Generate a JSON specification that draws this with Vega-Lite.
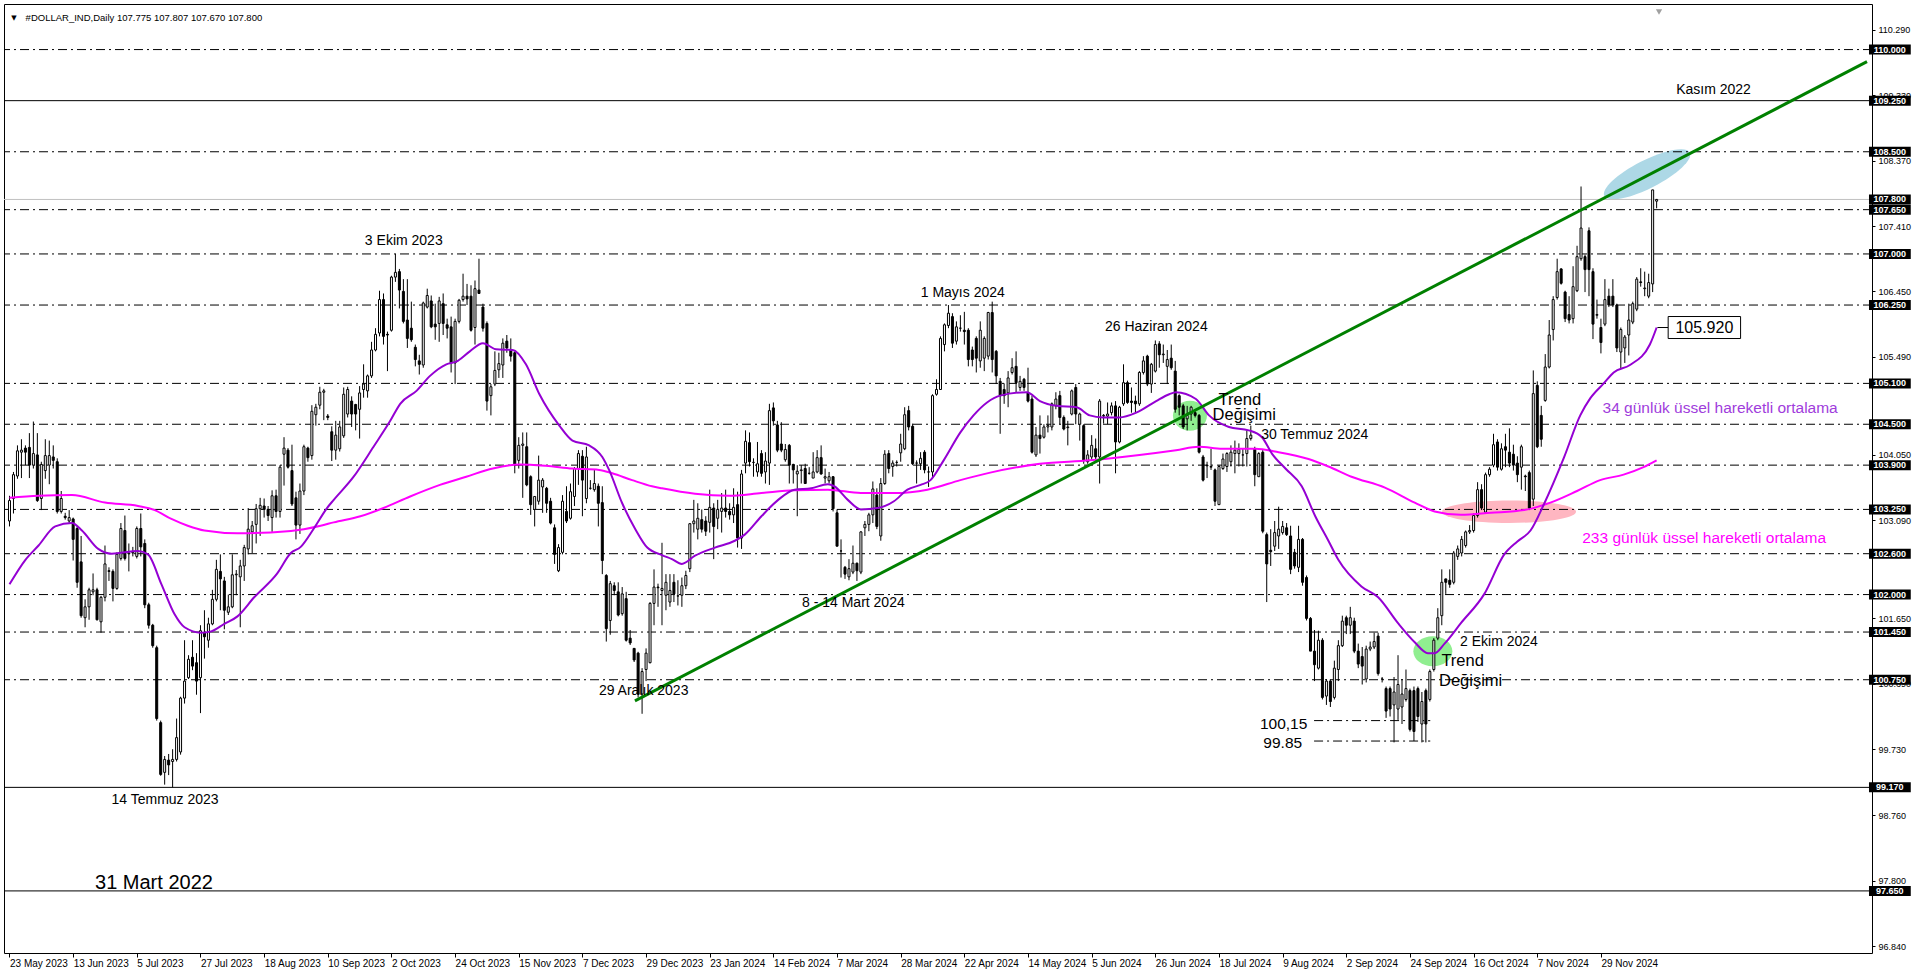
{
"$schema":"https://vega.github.io/schema/vega-lite/v6.json",
"width":1868,"height":949,
"autosize":{"type":"none"},
"padding":{"left":4,"top":4,"right":48,"bottom":23},
"background":"white",
"config":{"view":{"stroke":"#000000","strokeWidth":1},"font":"Liberation Sans",
 "axisX":{"domain":false,"grid":false,"ticks":true,"tickSize":4,"tickColor":"#000000","labelAlign":"left","labelBaseline":"top","labelPadding":1,"labelFont":"Liberation Sans","labelFontSize":10,"labelColor":"#000000","labelFlush":false,"labelOverlap":false,"labelBound":false},
 "axisY":{"domain":false,"grid":false,"ticks":true,"tickSize":3,"tickColor":"#000000","labelPadding":3,"labelFont":"Liberation Sans","labelFontSize":9,"labelColor":"#000000","labelFlush":false,"labelOverlap":false,"labelBound":false}},
"datasets":{
"candles":[
{"i":0,"o":103.08,"h":103.45,"l":103.0,"c":103.38},{"i":1,"o":103.41,"h":103.8,"l":103.19,"c":103.76},{"i":2,"o":103.74,"h":104.19,"l":103.7,"c":104.11},{"i":3,"o":104.09,"h":104.28,"l":103.71,"c":104.12},{"i":4,"o":104.15,"h":104.19,"l":103.9,"c":104.09},{"i":5,"o":104.16,"h":104.37,"l":103.71,"c":103.9},{"i":6,"o":103.9,"h":104.54,"l":103.85,"c":104.07},{"i":7,"o":104.05,"h":104.37,"l":103.36,"c":103.38},{"i":8,"o":103.41,"h":103.95,"l":103.24,"c":103.91},{"i":9,"o":103.82,"h":104.28,"l":103.7,"c":104.04},
{"i":10,"o":103.9,"h":104.26,"l":103.62,"c":104.04},{"i":11,"o":104.02,"h":104.19,"l":103.85,"c":103.97},{"i":12,"o":103.95,"h":104.0,"l":103.19,"c":103.22},{"i":13,"o":103.22,"h":103.52,"l":103.19,"c":103.41},{"i":14,"o":103.15,"h":103.2,"l":103.1,"c":103.13},{"i":15,"o":103.08,"h":103.24,"l":103.05,"c":103.13},{"i":16,"o":103.11,"h":103.13,"l":102.5,"c":102.81},{"i":17,"o":102.97,"h":103.0,"l":102.1,"c":102.18},{"i":18,"o":102.48,"h":102.86,"l":101.66,"c":101.69},{"i":19,"o":101.66,"h":101.93,"l":101.52,"c":101.82},
{"i":20,"o":101.82,"h":102.1,"l":101.63,"c":102.07},{"i":21,"o":102.04,"h":102.31,"l":101.99,"c":102.07},{"i":22,"o":102.07,"h":102.1,"l":101.62,"c":101.63},{"i":23,"o":101.6,"h":101.98,"l":101.44,"c":101.96},{"i":24,"o":101.96,"h":102.72,"l":101.9,"c":102.45},{"i":25,"o":102.35,"h":102.4,"l":102.2,"c":102.34},{"i":26,"o":102.34,"h":102.37,"l":101.9,"c":102.09},{"i":27,"o":102.09,"h":102.62,"l":102.07,"c":102.59},{"i":28,"o":102.53,"h":103.05,"l":102.5,"c":102.97},{"i":29,"o":102.94,"h":103.16,"l":102.5,"c":102.53},
{"i":30,"o":102.6,"h":102.75,"l":102.34,"c":102.61},{"i":31,"o":102.61,"h":102.7,"l":102.56,"c":102.62},{"i":32,"o":102.56,"h":103.0,"l":102.53,"c":102.97},{"i":33,"o":102.97,"h":103.19,"l":102.56,"c":102.7},{"i":34,"o":102.75,"h":102.81,"l":101.8,"c":101.85},{"i":35,"o":101.85,"h":101.88,"l":101.5,"c":101.55},{"i":36,"o":101.55,"h":101.57,"l":101.22,"c":101.25},{"i":37,"o":101.22,"h":101.25,"l":100.15,"c":100.18},{"i":38,"o":100.12,"h":100.15,"l":99.34,"c":99.36},{"i":39,"o":99.39,"h":99.63,"l":99.21,"c":99.58},
{"i":40,"o":99.57,"h":99.66,"l":99.35,"c":99.5},{"i":41,"o":99.55,"h":99.73,"l":99.17,"c":99.58},{"i":42,"o":99.58,"h":100.18,"l":99.55,"c":99.9},{"i":43,"o":99.69,"h":100.5,"l":99.65,"c":100.48},{"i":44,"o":100.48,"h":101.33,"l":100.4,"c":100.73},{"i":45,"o":100.78,"h":101.11,"l":100.76,"c":101.05},{"i":46,"o":101.08,"h":101.33,"l":100.89,"c":100.95},{"i":47,"o":101.0,"h":101.14,"l":100.53,"c":100.73},{"i":48,"o":100.78,"h":101.55,"l":100.26,"c":101.47},{"i":49,"o":101.44,"h":101.77,"l":101.06,"c":101.38},
{"i":50,"o":101.33,"h":101.66,"l":101.22,"c":101.57},{"i":51,"o":101.57,"h":102.07,"l":101.55,"c":101.93},{"i":52,"o":101.93,"h":102.51,"l":101.9,"c":102.37},{"i":53,"o":102.34,"h":102.59,"l":101.77,"c":102.23},{"i":54,"o":102.2,"h":102.26,"l":101.49,"c":101.77},{"i":55,"o":101.74,"h":102.0,"l":101.7,"c":101.82},{"i":56,"o":101.82,"h":102.59,"l":101.8,"c":102.29},{"i":57,"o":102.29,"h":102.36,"l":101.99,"c":102.3},{"i":58,"o":102.26,"h":102.51,"l":101.52,"c":102.42},{"i":59,"o":102.42,"h":102.73,"l":102.2,"c":102.69},
{"i":60,"o":102.67,"h":103.27,"l":102.59,"c":102.96},{"i":61,"o":102.92,"h":103.08,"l":102.61,"c":103.01},{"i":62,"o":103.03,"h":103.33,"l":102.75,"c":103.26},{"i":63,"o":103.26,"h":103.42,"l":102.86,"c":103.31},{"i":64,"o":103.3,"h":103.41,"l":103.13,"c":103.25},{"i":65,"o":103.25,"h":103.3,"l":103.08,"c":103.16},{"i":66,"o":103.13,"h":103.53,"l":102.92,"c":103.45},{"i":67,"o":103.45,"h":103.54,"l":103.13,"c":103.22},{"i":68,"o":103.22,"h":103.9,"l":103.13,"c":103.87},{"i":69,"o":104.06,"h":104.31,"l":103.6,"c":104.15},
{"i":70,"o":104.12,"h":104.15,"l":103.85,"c":103.87},{"i":71,"o":103.82,"h":104.2,"l":103.3,"c":103.33},{"i":72,"o":103.42,"h":103.51,"l":102.81,"c":103.02},{"i":73,"o":103.02,"h":103.63,"l":102.89,"c":103.52},{"i":74,"o":103.52,"h":104.2,"l":103.46,"c":104.17},{"i":75,"o":104.15,"h":104.17,"l":103.95,"c":104.01},{"i":76,"o":104.04,"h":104.78,"l":103.98,"c":104.69},{"i":77,"o":104.64,"h":104.8,"l":104.48,"c":104.75},{"i":78,"o":104.78,"h":105.05,"l":104.72,"c":104.97},{"i":79,"o":104.97,"h":105.02,"l":104.56,"c":104.99},
{"i":80,"o":104.62,"h":104.65,"l":104.56,"c":104.6},{"i":81,"o":104.39,"h":104.47,"l":103.96,"c":104.12},{"i":82,"o":104.12,"h":104.55,"l":103.98,"c":104.34},{"i":83,"o":104.14,"h":104.55,"l":104.1,"c":104.46},{"i":84,"o":104.33,"h":105.04,"l":104.3,"c":104.94},{"i":85,"o":104.65,"h":105.05,"l":104.6,"c":105.01},{"i":86,"o":104.84,"h":104.91,"l":104.46,"c":104.65},{"i":87,"o":104.79,"h":104.8,"l":104.41,"c":104.65},{"i":88,"o":104.72,"h":105.06,"l":104.29,"c":104.96},{"i":89,"o":105.01,"h":105.38,"l":104.89,"c":105.09},
{"i":90,"o":104.99,"h":105.23,"l":104.89,"c":105.21},{"i":91,"o":105.21,"h":105.71,"l":105.18,"c":105.59},{"i":92,"o":105.59,"h":105.91,"l":105.57,"c":105.82},{"i":93,"o":105.84,"h":106.46,"l":105.79,"c":106.33},{"i":94,"o":106.33,"h":106.42,"l":105.67,"c":105.79},{"i":95,"o":105.82,"h":105.86,"l":105.28,"c":105.81},{"i":96,"o":105.88,"h":106.68,"l":105.86,"c":106.66},{"i":97,"o":106.66,"h":107.0,"l":106.59,"c":106.73},{"i":98,"o":106.74,"h":106.78,"l":106.2,"c":106.47},{"i":99,"o":106.45,"h":106.63,"l":105.98,"c":106.01},
{"i":100,"o":106.03,"h":106.63,"l":105.62,"c":105.76},{"i":101,"o":105.91,"h":106.3,"l":105.71,"c":105.74},{"i":102,"o":105.63,"h":105.67,"l":105.35,"c":105.45},{"i":103,"o":105.43,"h":105.52,"l":105.23,"c":105.38},{"i":104,"o":105.37,"h":106.3,"l":105.33,"c":106.28},{"i":105,"o":106.22,"h":106.49,"l":106.2,"c":106.39},{"i":106,"o":106.31,"h":106.39,"l":105.91,"c":105.93},{"i":107,"o":105.97,"h":106.27,"l":105.74,"c":105.93},{"i":108,"o":105.98,"h":106.37,"l":105.71,"c":106.31},{"i":109,"o":106.27,"h":106.42,"l":105.81,"c":105.98},
{"i":110,"o":105.96,"h":106.05,"l":105.76,"c":105.91},{"i":111,"o":105.93,"h":106.08,"l":105.26,"c":105.4},{"i":112,"o":105.4,"h":106.05,"l":105.09,"c":106.01},{"i":113,"o":106.01,"h":106.34,"l":105.98,"c":106.32},{"i":114,"o":106.33,"h":106.71,"l":106.3,"c":106.38},{"i":115,"o":106.38,"h":106.56,"l":106.25,"c":106.34},{"i":116,"o":106.38,"h":106.54,"l":105.86,"c":105.88},{"i":117,"o":105.92,"h":106.61,"l":105.67,"c":106.49},{"i":118,"o":106.47,"h":106.93,"l":106.42,"c":106.42},{"i":119,"o":106.22,"h":106.27,"l":105.86,"c":105.91},
{"i":120,"o":105.98,"h":106.01,"l":104.7,"c":104.84},{"i":121,"o":104.92,"h":105.09,"l":104.63,"c":105.05},{"i":122,"o":105.09,"h":105.57,"l":105.06,"c":105.29},{"i":123,"o":105.3,"h":105.55,"l":105.18,"c":105.39},{"i":124,"o":105.37,"h":105.76,"l":105.18,"c":105.69},{"i":125,"o":105.72,"h":105.81,"l":105.55,"c":105.62},{"i":126,"o":105.59,"h":105.76,"l":105.42,"c":105.5},{"i":127,"o":105.55,"h":105.57,"l":103.78,"c":103.9},{"i":128,"o":103.97,"h":104.31,"l":103.85,"c":104.19},{"i":129,"o":104.19,"h":104.38,"l":103.42,"c":104.21},
{"i":130,"o":104.17,"h":104.38,"l":103.59,"c":103.61},{"i":131,"o":103.73,"h":103.75,"l":103.17,"c":103.32},{"i":132,"o":103.25,"h":103.44,"l":103.0,"c":103.44},{"i":133,"o":103.37,"h":104.04,"l":103.32,"c":103.68},{"i":134,"o":103.58,"h":103.71,"l":103.2,"c":103.68},{"i":135,"o":103.56,"h":103.58,"l":103.2,"c":103.34},{"i":136,"o":103.37,"h":103.42,"l":103.03,"c":103.05},{"i":137,"o":102.98,"h":103.03,"l":102.45,"c":102.59},{"i":138,"o":102.35,"h":102.74,"l":102.33,"c":102.69},{"i":139,"o":102.62,"h":103.46,"l":102.59,"c":103.37},
{"i":140,"o":103.22,"h":103.59,"l":103.05,"c":103.08},{"i":141,"o":103.12,"h":103.63,"l":103.1,"c":103.51},{"i":142,"o":103.44,"h":103.87,"l":103.3,"c":103.85},{"i":143,"o":103.85,"h":104.12,"l":103.61,"c":104.07},{"i":144,"o":104.03,"h":104.12,"l":103.15,"c":103.68},{"i":145,"o":103.41,"h":104.17,"l":103.34,"c":104.02},{"i":146,"o":103.56,"h":103.68,"l":103.54,"c":103.56},{"i":147,"o":103.54,"h":103.83,"l":103.51,"c":103.63},{"i":148,"o":103.59,"h":103.63,"l":103.0,"c":103.34},{"i":149,"o":103.35,"h":103.59,"l":102.3,"c":102.5},
{"i":150,"o":102.28,"h":102.3,"l":101.31,"c":101.5},{"i":151,"o":101.62,"h":102.2,"l":101.41,"c":102.16},{"i":152,"o":102.13,"h":102.18,"l":101.99,"c":102.06},{"i":153,"o":102.04,"h":102.18,"l":101.68,"c":101.7},{"i":154,"o":101.72,"h":102.11,"l":101.69,"c":102.01},{"i":155,"o":101.94,"h":102.04,"l":101.31,"c":101.33},{"i":156,"o":101.36,"h":101.48,"l":101.26,"c":101.29},{"i":157,"o":101.21,"h":101.21,"l":101.01,"c":101.04},{"i":158,"o":101.14,"h":101.16,"l":100.49,"c":100.54},{"i":159,"o":100.54,"h":100.92,"l":100.25,"c":100.87},
{"i":160,"o":100.9,"h":101.21,"l":100.73,"c":101.14},{"i":161,"o":101.0,"h":101.89,"l":100.99,"c":101.87},{"i":162,"o":101.87,"h":102.37,"l":101.55,"c":102.11},{"i":163,"o":102.11,"h":102.16,"l":101.82,"c":102.1},{"i":164,"o":102.06,"h":102.76,"l":101.55,"c":102.09},{"i":165,"o":101.99,"h":102.3,"l":101.77,"c":102.18},{"i":166,"o":101.89,"h":102.3,"l":101.82,"c":102.06},{"i":167,"o":102.18,"h":102.3,"l":101.89,"c":102.01},{"i":168,"o":101.98,"h":102.21,"l":101.84,"c":101.98},{"i":169,"o":101.99,"h":102.25,"l":101.82,"c":102.13},
{"i":170,"o":102.13,"h":102.35,"l":102.08,"c":102.28},{"i":171,"o":102.38,"h":103.05,"l":102.33,"c":103.04},{"i":172,"o":103.04,"h":103.39,"l":102.91,"c":103.08},{"i":173,"o":102.96,"h":103.34,"l":102.81,"c":103.12},{"i":174,"o":103.1,"h":103.25,"l":102.91,"c":102.96},{"i":175,"o":103.08,"h":103.15,"l":102.86,"c":102.93},{"i":176,"o":103.06,"h":103.54,"l":102.91,"c":103.28},{"i":177,"o":103.27,"h":103.34,"l":102.52,"c":103.0},{"i":178,"o":103.12,"h":103.39,"l":102.96,"c":103.25},{"i":179,"o":103.22,"h":103.49,"l":102.91,"c":103.27},
{"i":180,"o":103.27,"h":103.54,"l":103.13,"c":103.22},{"i":181,"o":103.22,"h":103.34,"l":103.1,"c":103.17},{"i":182,"o":103.17,"h":103.56,"l":103.05,"c":103.28},{"i":183,"o":103.32,"h":103.51,"l":102.69,"c":102.83},{"i":184,"o":102.83,"h":103.83,"l":102.67,"c":103.77},{"i":185,"o":103.93,"h":104.41,"l":103.78,"c":104.25},{"i":186,"o":104.23,"h":104.38,"l":103.88,"c":103.95},{"i":187,"o":103.94,"h":104.0,"l":103.73,"c":103.94},{"i":188,"o":103.8,"h":104.24,"l":103.73,"c":103.92},{"i":189,"o":104.07,"h":104.12,"l":103.73,"c":103.78},
{"i":190,"o":103.8,"h":104.09,"l":103.63,"c":103.96},{"i":191,"o":103.93,"h":104.8,"l":103.61,"c":104.7},{"i":192,"o":104.74,"h":104.82,"l":104.48,"c":104.55},{"i":193,"o":104.49,"h":104.55,"l":104.09,"c":104.12},{"i":194,"o":104.21,"h":104.53,"l":104.09,"c":104.12},{"i":195,"o":103.98,"h":104.21,"l":103.95,"c":104.13},{"i":196,"o":104.19,"h":104.21,"l":103.63,"c":103.9},{"i":197,"o":103.91,"h":103.92,"l":103.63,"c":103.83},{"i":198,"o":103.77,"h":103.9,"l":103.15,"c":103.81},{"i":199,"o":103.82,"h":103.9,"l":103.63,"c":103.83},
{"i":200,"o":103.85,"h":103.92,"l":103.63,"c":103.63},{"i":201,"o":103.78,"h":103.87,"l":103.76,"c":103.78},{"i":202,"o":103.71,"h":104.09,"l":103.71,"c":103.8},{"i":203,"o":103.8,"h":104.12,"l":103.78,"c":104.01},{"i":204,"o":104.01,"h":104.19,"l":103.76,"c":103.77},{"i":205,"o":103.71,"h":103.85,"l":103.63,"c":103.73},{"i":206,"o":103.67,"h":103.8,"l":103.63,"c":103.73},{"i":207,"o":103.73,"h":103.74,"l":103.22,"c":103.26},{"i":208,"o":103.2,"h":103.25,"l":102.71,"c":102.71},{"i":209,"o":102.64,"h":102.81,"l":102.25,"c":102.64},
{"i":210,"o":102.4,"h":102.42,"l":102.23,"c":102.3},{"i":211,"o":102.26,"h":102.52,"l":102.21,"c":102.38},{"i":212,"o":102.33,"h":102.72,"l":102.3,"c":102.46},{"i":213,"o":102.46,"h":102.47,"l":102.2,"c":102.35},{"i":214,"o":102.33,"h":102.93,"l":102.3,"c":102.92},{"i":215,"o":102.98,"h":103.08,"l":102.86,"c":103.03},{"i":216,"o":103.03,"h":103.2,"l":102.93,"c":103.17},{"i":217,"o":103.17,"h":103.66,"l":103.05,"c":103.55},{"i":218,"o":103.46,"h":103.56,"l":102.96,"c":103.0},{"i":219,"o":102.86,"h":103.71,"l":102.79,"c":103.63},
{"i":220,"o":103.63,"h":104.12,"l":103.61,"c":104.06},{"i":221,"o":104.07,"h":104.12,"l":103.78,"c":103.85},{"i":222,"o":103.88,"h":103.97,"l":103.73,"c":103.93},{"i":223,"o":103.94,"h":103.97,"l":103.88,"c":103.94},{"i":224,"o":104.08,"h":104.36,"l":103.95,"c":104.21},{"i":225,"o":104.14,"h":104.75,"l":104.12,"c":104.64},{"i":226,"o":104.7,"h":104.77,"l":104.41,"c":104.46},{"i":227,"o":104.47,"h":104.51,"l":103.9,"c":103.92},{"i":228,"o":103.93,"h":103.97,"l":103.63,"c":103.93},{"i":229,"o":103.92,"h":104.09,"l":103.83,"c":104.0},
{"i":230,"o":104.09,"h":104.12,"l":103.78,"c":103.83},{"i":231,"o":103.8,"h":103.88,"l":103.58,"c":103.8},{"i":232,"o":103.8,"h":104.94,"l":103.71,"c":104.92},{"i":233,"o":104.94,"h":105.16,"l":104.92,"c":105.01},{"i":234,"o":105.01,"h":105.79,"l":105.01,"c":105.76},{"i":235,"o":105.67,"h":105.98,"l":105.57,"c":105.96},{"i":236,"o":105.95,"h":106.25,"l":105.91,"c":106.13},{"i":237,"o":106.08,"h":106.13,"l":105.62,"c":105.69},{"i":238,"o":105.72,"h":106.01,"l":105.67,"c":105.93},{"i":239,"o":105.91,"h":106.1,"l":105.86,"c":105.91},
{"i":240,"o":105.88,"h":106.15,"l":105.67,"c":105.86},{"i":241,"o":105.88,"h":105.91,"l":105.35,"c":105.45},{"i":242,"o":105.59,"h":105.64,"l":105.35,"c":105.45},{"i":243,"o":105.76,"h":105.79,"l":105.26,"c":105.47},{"i":244,"o":105.43,"h":106.01,"l":105.33,"c":105.88},{"i":245,"o":105.47,"h":105.79,"l":105.28,"c":105.76},{"i":246,"o":105.5,"h":106.15,"l":105.45,"c":106.14},{"i":247,"o":106.14,"h":106.3,"l":105.26,"c":105.45},{"i":248,"o":105.57,"h":105.59,"l":105.09,"c":105.21},{"i":249,"o":105.13,"h":105.18,"l":104.36,"c":104.92},
{"i":250,"o":105.01,"h":105.1,"l":104.8,"c":104.92},{"i":251,"o":104.96,"h":105.28,"l":104.75,"c":105.18},{"i":252,"o":105.26,"h":105.47,"l":105.23,"c":105.33},{"i":253,"o":105.35,"h":105.57,"l":104.96,"c":105.11},{"i":254,"o":105.04,"h":105.21,"l":104.99,"c":105.13},{"i":255,"o":105.16,"h":105.18,"l":104.99,"c":105.04},{"i":256,"o":104.96,"h":105.33,"l":104.82,"c":104.84},{"i":257,"o":104.87,"h":104.92,"l":104.07,"c":104.09},{"i":258,"o":104.05,"h":104.46,"l":104.02,"c":104.34},{"i":259,"o":104.34,"h":104.63,"l":104.07,"c":104.29},
{"i":260,"o":104.31,"h":104.5,"l":104.29,"c":104.46},{"i":261,"o":104.46,"h":104.63,"l":104.38,"c":104.48},{"i":262,"o":104.46,"h":104.82,"l":104.41,"c":104.8},{"i":263,"o":104.77,"h":104.97,"l":104.72,"c":104.87},{"i":264,"o":104.92,"h":104.99,"l":104.5,"c":104.6},{"i":265,"o":104.6,"h":104.63,"l":104.41,"c":104.43},{"i":266,"o":104.45,"h":104.55,"l":104.19,"c":104.46},{"i":267,"o":104.65,"h":105.01,"l":104.63,"c":104.99},{"i":268,"o":105.04,"h":105.09,"l":104.5,"c":104.65},{"i":269,"o":104.5,"h":104.67,"l":104.26,"c":104.65},
{"i":270,"o":104.48,"h":104.5,"l":103.92,"c":103.97},{"i":271,"o":103.95,"h":104.12,"l":103.92,"c":104.05},{"i":272,"o":104.02,"h":104.34,"l":103.97,"c":104.19},{"i":273,"o":104.14,"h":104.29,"l":103.97,"c":104.02},{"i":274,"o":104.02,"h":104.87,"l":103.63,"c":104.84},{"i":275,"o":104.62,"h":104.65,"l":104.51,"c":104.63},{"i":276,"o":104.62,"h":104.82,"l":104.5,"c":104.65},{"i":277,"o":104.67,"h":104.82,"l":104.63,"c":104.77},{"i":278,"o":104.77,"h":104.84,"l":103.78,"c":104.24},{"i":279,"o":104.24,"h":104.77,"l":104.22,"c":104.75},
{"i":280,"o":104.8,"h":105.38,"l":104.77,"c":105.11},{"i":281,"o":105.11,"h":105.14,"l":104.8,"c":104.82},{"i":282,"o":104.84,"h":105.04,"l":104.67,"c":104.82},{"i":283,"o":104.84,"h":104.92,"l":104.67,"c":104.8},{"i":284,"o":104.8,"h":105.28,"l":104.77,"c":105.26},{"i":285,"o":105.26,"h":105.5,"l":105.23,"c":105.43},{"i":286,"o":105.5,"h":105.52,"l":105.06,"c":105.09},{"i":287,"o":105.09,"h":105.4,"l":104.96,"c":105.38},{"i":288,"o":105.28,"h":105.73,"l":105.26,"c":105.67},{"i":289,"o":105.68,"h":105.72,"l":105.33,"c":105.52},
{"i":290,"o":105.52,"h":105.67,"l":105.4,"c":105.53},{"i":291,"o":105.35,"h":105.59,"l":105.09,"c":105.45},{"i":292,"o":105.47,"h":105.67,"l":105.3,"c":105.33},{"i":293,"o":105.28,"h":105.43,"l":104.67,"c":104.72},{"i":294,"o":104.92,"h":104.94,"l":104.63,"c":104.75},{"i":295,"o":104.77,"h":104.8,"l":104.43,"c":104.46},{"i":296,"o":104.58,"h":104.77,"l":104.41,"c":104.63},{"i":297,"o":104.65,"h":104.77,"l":104.55,"c":104.75},{"i":298,"o":104.67,"h":104.72,"l":104.6,"c":104.63},{"i":299,"o":104.63,"h":104.65,"l":104.07,"c":104.09},
{"i":300,"o":104.02,"h":104.05,"l":103.66,"c":103.68},{"i":301,"o":103.9,"h":103.95,"l":103.71,"c":103.89},{"i":302,"o":103.87,"h":104.14,"l":103.83,"c":103.88},{"i":303,"o":103.83,"h":103.85,"l":103.3,"c":103.37},{"i":304,"o":103.32,"h":103.9,"l":103.32,"c":103.88},{"i":305,"o":103.85,"h":104.07,"l":103.83,"c":103.99},{"i":306,"o":103.88,"h":104.09,"l":103.8,"c":104.07},{"i":307,"o":103.95,"h":104.19,"l":103.88,"c":104.09},{"i":308,"o":104.07,"h":104.26,"l":103.78,"c":104.12},{"i":309,"o":104.07,"h":104.22,"l":103.88,"c":104.13},
{"i":310,"o":104.05,"h":104.14,"l":103.88,"c":104.05},{"i":311,"o":104.07,"h":104.41,"l":103.88,"c":104.29},{"i":312,"o":104.29,"h":104.48,"l":104.26,"c":104.34},{"i":313,"o":104.14,"h":104.17,"l":103.59,"c":103.76},{"i":314,"o":103.73,"h":104.09,"l":103.73,"c":104.07},{"i":315,"o":104.09,"h":104.12,"l":102.9,"c":102.93},{"i":316,"o":102.88,"h":102.91,"l":101.89,"c":102.45},{"i":317,"o":102.65,"h":102.96,"l":102.42,"c":102.63},{"i":318,"o":102.71,"h":103.08,"l":102.64,"c":102.91},{"i":319,"o":102.86,"h":103.29,"l":102.67,"c":102.96},
{"i":320,"o":102.91,"h":103.08,"l":102.88,"c":103.0},{"i":321,"o":102.98,"h":103.05,"l":102.86,"c":102.88},{"i":322,"o":102.86,"h":103.01,"l":102.3,"c":102.37},{"i":323,"o":102.62,"h":102.67,"l":102.38,"c":102.42},{"i":324,"o":102.4,"h":103.01,"l":102.33,"c":102.81},{"i":325,"o":102.81,"h":102.83,"l":102.13,"c":102.18},{"i":326,"o":102.25,"h":102.28,"l":101.62,"c":101.65},{"i":327,"o":101.65,"h":101.67,"l":101.17,"c":101.17},{"i":328,"o":101.17,"h":101.48,"l":100.73,"c":100.97},{"i":329,"o":100.92,"h":101.47,"l":100.9,"c":101.33},
{"i":330,"o":101.33,"h":101.36,"l":100.46,"c":100.49},{"i":331,"o":100.51,"h":100.76,"l":100.38,"c":100.73},{"i":332,"o":100.73,"h":100.76,"l":100.35,"c":100.43},{"i":333,"o":100.49,"h":101.03,"l":100.46,"c":100.92},{"i":334,"o":100.9,"h":101.33,"l":100.73,"c":101.25},{"i":335,"o":101.25,"h":101.69,"l":101.23,"c":101.61},{"i":336,"o":101.66,"h":101.69,"l":101.42,"c":101.55},{"i":337,"o":101.55,"h":101.82,"l":101.42,"c":101.66},{"i":338,"o":101.61,"h":101.66,"l":101.14,"c":101.17},{"i":339,"o":101.17,"h":101.28,"l":100.92,"c":100.98},
{"i":340,"o":101.09,"h":101.23,"l":100.68,"c":100.95},{"i":341,"o":100.76,"h":101.25,"l":100.71,"c":101.2},{"i":342,"o":101.2,"h":101.31,"l":101.17,"c":101.23},{"i":343,"o":101.23,"h":101.44,"l":101.2,"c":101.31},{"i":344,"o":101.39,"h":101.44,"l":100.81,"c":100.84},{"i":345,"o":100.76,"h":100.79,"l":100.71,"c":100.76},{"i":346,"o":100.62,"h":100.65,"l":100.19,"c":100.29},{"i":347,"o":100.62,"h":100.65,"l":100.21,"c":100.32},{"i":348,"o":100.38,"h":100.79,"l":99.83,"c":100.57},{"i":349,"o":100.32,"h":101.11,"l":100.16,"c":100.68},
{"i":350,"o":100.35,"h":100.76,"l":100.1,"c":100.54},{"i":351,"o":100.46,"h":100.9,"l":100.43,"c":100.62},{"i":352,"o":100.59,"h":100.62,"l":99.99,"c":100.02},{"i":353,"o":100.59,"h":100.65,"l":99.85,"c":99.99},{"i":354,"o":100.62,"h":100.65,"l":100.13,"c":100.21},{"i":355,"o":100.1,"h":100.57,"l":99.83,"c":100.43},{"i":356,"o":100.59,"h":100.62,"l":99.83,"c":100.1},{"i":357,"o":100.46,"h":100.9,"l":100.43,"c":100.87},{"i":358,"o":100.9,"h":101.36,"l":100.87,"c":101.33},{"i":359,"o":101.36,"h":101.8,"l":101.33,"c":101.66},
{"i":360,"o":101.69,"h":102.37,"l":101.55,"c":102.18},{"i":361,"o":102.23,"h":102.23,"l":102.01,"c":102.18},{"i":362,"o":102.21,"h":102.37,"l":102.1,"c":102.15},{"i":363,"o":102.18,"h":102.64,"l":102.15,"c":102.61},{"i":364,"o":102.56,"h":102.72,"l":102.51,"c":102.67},{"i":365,"o":102.61,"h":102.86,"l":102.56,"c":102.81},{"i":366,"o":102.72,"h":102.94,"l":102.69,"c":102.92},{"i":367,"o":102.92,"h":103.02,"l":102.89,"c":102.94},{"i":368,"o":102.94,"h":103.19,"l":102.91,"c":103.16},{"i":369,"o":103.16,"h":103.65,"l":103.13,"c":103.54},
{"i":370,"o":103.54,"h":103.62,"l":103.24,"c":103.27},{"i":371,"o":103.21,"h":103.79,"l":103.19,"c":103.76},{"i":372,"o":103.76,"h":103.87,"l":103.73,"c":103.84},{"i":373,"o":103.9,"h":104.36,"l":103.87,"c":104.2},{"i":374,"o":104.24,"h":104.28,"l":103.82,"c":103.87},{"i":375,"o":103.84,"h":104.22,"l":103.82,"c":104.14},{"i":376,"o":104.17,"h":104.36,"l":103.87,"c":104.12},{"i":377,"o":104.09,"h":104.44,"l":103.87,"c":103.93},{"i":378,"o":104.06,"h":104.2,"l":103.82,"c":103.9},{"i":379,"o":103.93,"h":104.03,"l":103.65,"c":103.76},
{"i":380,"o":103.87,"h":104.2,"l":103.54,"c":104.17},{"i":381,"o":103.74,"h":103.76,"l":103.52,"c":103.73},{"i":382,"o":103.79,"h":103.82,"l":103.24,"c":103.27},{"i":383,"o":103.4,"h":105.29,"l":103.3,"c":104.95},{"i":384,"o":105.07,"h":105.13,"l":104.15,"c":104.17},{"i":385,"o":104.63,"h":104.77,"l":104.17,"c":104.28},{"i":386,"o":104.85,"h":105.53,"l":104.83,"c":105.34},{"i":387,"o":105.34,"h":106.03,"l":105.32,"c":105.81},{"i":388,"o":105.89,"h":106.38,"l":105.73,"c":106.33},{"i":389,"o":106.36,"h":106.93,"l":106.33,"c":106.74},
{"i":390,"o":106.78,"h":106.79,"l":106.55,"c":106.57},{"i":391,"o":106.44,"h":106.46,"l":106.0,"c":106.05},{"i":392,"o":106.11,"h":106.38,"l":105.98,"c":106.03},{"i":393,"o":106.05,"h":106.82,"l":105.98,"c":106.52},{"i":394,"o":106.46,"h":107.12,"l":106.44,"c":106.96},{"i":395,"o":106.93,"h":107.99,"l":106.9,"c":107.38},{"i":396,"o":106.96,"h":106.99,"l":106.44,"c":106.77},{"i":397,"o":107.34,"h":107.39,"l":106.38,"c":106.77},{"i":398,"o":106.74,"h":106.79,"l":105.75,"c":105.97},{"i":399,"o":106.1,"h":106.33,"l":106.05,"c":106.11},
{"i":400,"o":105.92,"h":106.05,"l":105.54,"c":105.7},{"i":401,"o":105.97,"h":106.63,"l":105.94,"c":106.33},{"i":402,"o":106.38,"h":106.49,"l":106.22,"c":106.25},{"i":403,"o":106.38,"h":106.63,"l":106.22,"c":106.25},{"i":404,"o":106.25,"h":106.27,"l":105.56,"c":105.62},{"i":405,"o":105.56,"h":105.92,"l":105.32,"c":105.89},{"i":406,"o":105.62,"h":105.81,"l":105.4,"c":105.78},{"i":407,"o":105.81,"h":106.27,"l":105.51,"c":106.03},{"i":408,"o":106.0,"h":106.3,"l":105.97,"c":106.27},{"i":409,"o":106.19,"h":106.66,"l":106.16,"c":106.63},
{"i":410,"o":106.59,"h":106.79,"l":106.52,"c":106.58},{"i":411,"o":106.49,"h":106.74,"l":106.38,"c":106.5},{"i":412,"o":106.38,"h":106.71,"l":106.35,"c":106.58},{"i":413,"o":106.56,"h":107.94,"l":106.44,"c":107.94},{"i":414,"o":107.775,"h":107.807,"l":107.67,"c":107.8}
],
"ema34":[
{"i":0,"v":102.15},{"i":4,"v":102.51},{"i":7.3,"v":102.72},{"i":11.5,"v":103.0},{"i":15.7,"v":103.05},{"i":18.2,"v":102.94},{"i":22.3,"v":102.67},{"i":25.7,"v":102.6},{"i":32.3,"v":102.64},{"i":34.8,"v":102.59},{"i":38.2,"v":102.15},{"i":41.5,"v":101.71},{"i":44,"v":101.52},{"i":48.2,"v":101.44},{"i":50.7,"v":101.46},{"i":54,"v":101.57},{"i":57.3,"v":101.68},{"i":61.5,"v":101.96},{"i":67.3,"v":102.31},{"i":70.7,"v":102.61},{"i":73.2,"v":102.7},{"i":76.5,"v":102.97},{"i":79.8,"v":103.27},{"i":81.5,"v":103.39},{"i":86.5,"v":103.73},{"i":91.5,"v":104.17},{"i":95.7,"v":104.55},{"i":98.2,"v":104.8},{"i":102.3,"v":104.99},{"i":105.7,"v":105.21},{"i":109.8,"v":105.38},{"i":112.3,"v":105.42},{"i":115.7,"v":105.57},{"i":119,"v":105.69},{"i":122.3,"v":105.6},{"i":126.5,"v":105.59},{"i":129.8,"v":105.38},{"i":133.2,"v":104.94},{"i":138.2,"v":104.48},{"i":141.5,"v":104.26},{"i":145.7,"v":104.19},{"i":149,"v":104.02},{"i":150.7,"v":103.83},{"i":154,"v":103.34},{"i":157.3,"v":102.96},{"i":160.3,"v":102.69},{"i":164,"v":102.58},{"i":166.5,"v":102.52},{"i":169,"v":102.45},{"i":172.3,"v":102.57},{"i":177.3,"v":102.69},{"i":182.3,"v":102.79},{"i":184.8,"v":102.88},{"i":189,"v":103.15},{"i":193.2,"v":103.39},{"i":197.3,"v":103.54},{"i":201.5,"v":103.56},{"i":205.7,"v":103.62},{"i":207.3,"v":103.59},{"i":210.7,"v":103.39},{"i":214,"v":103.25},{"i":218.2,"v":103.27},{"i":222.3,"v":103.37},{"i":225.7,"v":103.54},{"i":229,"v":103.61},{"i":231.5,"v":103.68},{"i":234.8,"v":103.97},{"i":239,"v":104.38},{"i":242.3,"v":104.63},{"i":245.7,"v":104.82},{"i":249,"v":104.92},{"i":255.7,"v":104.97},{"i":259,"v":104.84},{"i":263.2,"v":104.77},{"i":268.2,"v":104.75},{"i":271.5,"v":104.63},{"i":274.8,"v":104.6},{"i":279,"v":104.6},{"i":283.2,"v":104.67},{"i":288.2,"v":104.84},{"i":291.5,"v":104.94},{"i":293.2,"v":104.97},{"i":298.2,"v":104.87},{"i":301.5,"v":104.63},{"i":306.5,"v":104.46},{"i":311.5,"v":104.41},{"i":314.8,"v":104.31},{"i":317.3,"v":104.07},{"i":320.7,"v":103.85},{"i":324.8,"v":103.59},{"i":328.2,"v":103.15},{"i":331.5,"v":102.79},{"i":334,"v":102.51},{"i":339.8,"v":102.12},{"i":344,"v":101.96},{"i":349,"v":101.58},{"i":353.2,"v":101.3},{"i":356.5,"v":101.14},{"i":358.2,"v":101.14},{"i":360.7,"v":101.28},{"i":364.8,"v":101.58},{"i":370.7,"v":102.01},{"i":375.7,"v":102.59},{"i":379,"v":102.78},{"i":382.3,"v":102.94},{"i":385.7,"v":103.33},{"i":390.7,"v":104.01},{"i":394.8,"v":104.63},{"i":397.3,"v":104.88},{"i":400.7,"v":105.1},{"i":403.2,"v":105.26},{"i":407.3,"v":105.37},{"i":412.3,"v":105.67},{"i":414,"v":105.92}
],
"ema233":[
{"i":0,"v":103.42},{"i":7.3,"v":103.45},{"i":15.7,"v":103.46},{"i":24,"v":103.35},{"i":32.3,"v":103.3},{"i":36.5,"v":103.24},{"i":40.7,"v":103.11},{"i":44.8,"v":103.01},{"i":49,"v":102.94},{"i":57.3,"v":102.9},{"i":65.7,"v":102.91},{"i":74,"v":102.96},{"i":78.2,"v":103.01},{"i":81.5,"v":103.06},{"i":88.2,"v":103.15},{"i":94,"v":103.27},{"i":100.7,"v":103.44},{"i":108.2,"v":103.61},{"i":114.8,"v":103.73},{"i":121.5,"v":103.85},{"i":128.2,"v":103.91},{"i":134.8,"v":103.89},{"i":141.5,"v":103.85},{"i":148.2,"v":103.83},{"i":151.5,"v":103.78},{"i":156.5,"v":103.68},{"i":161.5,"v":103.59},{"i":164,"v":103.56},{"i":172.3,"v":103.48},{"i":180.7,"v":103.45},{"i":189,"v":103.49},{"i":197.3,"v":103.53},{"i":205.7,"v":103.54},{"i":214,"v":103.49},{"i":222.3,"v":103.49},{"i":230.7,"v":103.54},{"i":239,"v":103.68},{"i":246.5,"v":103.79},{"i":259,"v":103.92},{"i":271.5,"v":103.97},{"i":284,"v":104.05},{"i":293.2,"v":104.12},{"i":299,"v":104.17},{"i":304.8,"v":104.14},{"i":313.2,"v":104.14},{"i":319,"v":104.09},{"i":326.5,"v":103.99},{"i":331.5,"v":103.88},{"i":337.3,"v":103.73},{"i":345.7,"v":103.57},{"i":353.2,"v":103.35},{"i":358.2,"v":103.22},{"i":364.8,"v":103.17},{"i":372.3,"v":103.2},{"i":380.7,"v":103.24},{"i":387.3,"v":103.35},{"i":394,"v":103.52},{"i":399.8,"v":103.68},{"i":405.7,"v":103.76},{"i":410.7,"v":103.87},{"i":414,"v":103.97}
],
"levelsDD":[{"v":110.0},{"v":108.5},{"v":107.65},{"v":107.0},{"v":106.25},{"v":105.1},{"v":104.5},{"v":103.9},{"v":103.25},{"v":102.6},{"v":102.0},{"v":101.45},{"v":100.75}],
"levelsSolid":[{"v":109.25},{"v":99.17},{"v":97.65}],
"boxes":[{"v":110.0,"t":"110.000"},{"v":109.25,"t":"109.250"},{"v":108.5,"t":"108.500"},{"v":107.8,"t":"107.800"},{"v":107.65,"t":"107.650"},{"v":107.0,"t":"107.000"},{"v":106.25,"t":"106.250"},{"v":105.1,"t":"105.100"},{"v":104.5,"t":"104.500"},{"v":103.9,"t":"103.900"},{"v":103.25,"t":"103.250"},{"v":102.6,"t":"102.600"},{"v":102.0,"t":"102.000"},{"v":101.45,"t":"101.450"},{"v":100.75,"t":"100.750"},{"v":99.17,"t":"99.170"},{"v":97.65,"t":"97.650"}]
},
"layer":[
{"data":{"values":[{"i":376.9,"v":103.217}]},"mark":{"type":"point","shape":"M -1 0 A 1 0.168 0 1 0 1 0 A 1 0.168 0 1 0 -1 0 Z","filled":true,"color":"#FFB6C1","opacity":1,"size":17956,"strokeWidth":0},
 "encoding":{"x":{"field":"i","type":"quantitative","scale":{"domain":[-0.125,466.875],"nice":false,"zero":false},"axis":{"title":null}},"y":{"field":"v","type":"quantitative","scale":{"domain":[96.812,110.5955],"nice":false,"zero":false},"axis":{"title":null,"orient":"right"}}}},
{"data":{"values":[{"i":411.6,"v":108.17}]},"mark":{"type":"point","shape":"M -1 0 A 1 0.29 0 1 0 1 0 A 1 0.29 0 1 0 -1 0 Z","filled":true,"color":"#ADD8E6","opacity":1,"size":9216,"angle":333,"strokeWidth":0},
 "encoding":{"x":{"field":"i","type":"quantitative","scale":{"domain":[-0.125,466.875],"nice":false,"zero":false},"axis":{"title":null}},"y":{"field":"v","type":"quantitative","scale":{"domain":[96.812,110.5955],"nice":false,"zero":false},"axis":{"title":null,"orient":"right"}}}},
{"data":{"values":[{"i":296.7,"v":104.626}]},"mark":{"type":"point","shape":"M -1 0 A 1 0.88 0 1 0 1 0 A 1 0.88 0 1 0 -1 0 Z","filled":true,"color":"#90EE90","opacity":1,"size":1156,"strokeWidth":0},
 "encoding":{"x":{"field":"i","type":"quantitative","scale":{"domain":[-0.125,466.875],"nice":false,"zero":false},"axis":{"title":null}},"y":{"field":"v","type":"quantitative","scale":{"domain":[96.812,110.5955],"nice":false,"zero":false},"axis":{"title":null,"orient":"right"}}}},
{"data":{"values":[{"i":357.75,"v":101.169}]},"mark":{"type":"point","shape":"M -1 0 A 1 0.77 0 1 0 1 0 A 1 0.77 0 1 0 -1 0 Z","filled":true,"color":"#90EE90","opacity":1,"size":1521,"strokeWidth":0},
 "encoding":{"x":{"field":"i","type":"quantitative","scale":{"domain":[-0.125,466.875],"nice":false,"zero":false},"axis":{"title":null}},"y":{"field":"v","type":"quantitative","scale":{"domain":[96.812,110.5955],"nice":false,"zero":false},"axis":{"title":null,"orient":"right"}}}},
{"data":{"values":[{"v":107.8}]},"mark":{"type":"rule","color":"#C0C0C0","strokeWidth":1},
 "encoding":{"y":{"field":"v","type":"quantitative","scale":{"domain":[96.812,110.5955],"nice":false,"zero":false},"axis":{"title":null,"orient":"right"}}}},
{"data":{"name":"levelsDD"},"mark":{"type":"rule","color":"#000000","strokeWidth":1,"strokeDash":[9,4,2,4]},
 "encoding":{"y":{"field":"v","type":"quantitative","scale":{"domain":[96.812,110.5955],"nice":false,"zero":false},"axis":{"title":null,"orient":"right"}}}},
{"data":{"name":"levelsSolid"},"mark":{"type":"rule","color":"#000000","strokeWidth":1},
 "encoding":{"y":{"field":"v","type":"quantitative","scale":{"domain":[96.812,110.5955],"nice":false,"zero":false},"axis":{"title":null,"orient":"right"}}}},
{"data":{"values":[{"v":100.15},{"v":99.85}]},"mark":{"type":"rule","color":"#000000","strokeWidth":1,"strokeDash":[9,4,2,4]},
 "encoding":{"x":{"datum":327.9,"type":"quantitative","scale":{"domain":[-0.125,466.875],"nice":false,"zero":false},"axis":{"title":null}},"x2":{"datum":357.1},"y":{"field":"v","type":"quantitative","scale":{"domain":[96.812,110.5955],"nice":false,"zero":false},"axis":{"title":null,"orient":"right"}}}},
{"data":{"name":"candles"},"mark":{"type":"rule","color":"#000000","strokeWidth":1},
 "encoding":{"x":{"field":"i","type":"quantitative","scale":{"domain":[-0.125,466.875],"nice":false,"zero":false},
   "axis":{"title":null,"values":[0,16,32,48,64,80,96,112,128,144,160,176,192,208,224,240,256,272,288,304,320,336,352,368,384,400],
   "labelExpr":"['23 May 2023','13 Jun 2023','5 Jul 2023','27 Jul 2023','18 Aug 2023','10 Sep 2023','2 Oct 2023','24 Oct 2023','15 Nov 2023','7 Dec 2023','29 Dec 2023','23 Jan 2024','14 Feb 2024','7 Mar 2024','28 Mar 2024','22 Apr 2024','14 May 2024','5 Jun 2024','26 Jun 2024','18 Jul 2024','9 Aug 2024','2 Sep 2024','24 Sep 2024','16 Oct 2024','7 Nov 2024','29 Nov 2024'][round(datum.value/16)]"}},
  "y":{"field":"l","type":"quantitative","scale":{"domain":[96.812,110.5955],"nice":false,"zero":false},
   "axis":{"title":null,"orient":"right","values":[110.29,109.81,109.33,108.85,108.37,107.89,107.41,106.93,106.45,105.97,105.49,105.01,104.05,103.57,103.09,102.13,101.65,101.17,100.69,100.21,99.73,99.25,98.76,98.28,97.8,97.32,96.84],"format":".3f"}},
  "y2":{"field":"h"}}},
{"data":{"name":"candles"},"mark":{"type":"bar","size":2,"stroke":"#000000","strokeWidth":1,"orient":"vertical"},
 "encoding":{"x":{"field":"i","type":"quantitative","scale":{"domain":[-0.125,466.875],"nice":false,"zero":false},"axis":{"title":null}},
  "y":{"field":"o","type":"quantitative","scale":{"domain":[96.812,110.5955],"nice":false,"zero":false},"axis":{"title":null,"orient":"right"}},"y2":{"field":"c"},
  "fill":{"condition":{"test":"datum.c < datum.o","value":"#000000"},"value":"#FFFFFF"}}},
{"data":{"name":"ema233"},"mark":{"type":"line","color":"#FF00FF","strokeWidth":2,"interpolate":"monotone"},
 "encoding":{"x":{"field":"i","type":"quantitative","scale":{"domain":[-0.125,466.875],"nice":false,"zero":false},"axis":{"title":null}},"y":{"field":"v","type":"quantitative","scale":{"domain":[96.812,110.5955],"nice":false,"zero":false},"axis":{"title":null,"orient":"right"}}}},
{"data":{"name":"ema34"},"mark":{"type":"line","color":"#9400D3","strokeWidth":2,"interpolate":"monotone"},
 "encoding":{"x":{"field":"i","type":"quantitative","scale":{"domain":[-0.125,466.875],"nice":false,"zero":false},"axis":{"title":null}},"y":{"field":"v","type":"quantitative","scale":{"domain":[96.812,110.5955],"nice":false,"zero":false},"axis":{"title":null,"orient":"right"}}}},
{"data":{"values":[{"i":157.2,"v":100.44},{"i":466.875,"v":109.823}]},"mark":{"type":"line","color":"#008000","strokeWidth":3},
 "encoding":{"x":{"field":"i","type":"quantitative","scale":{"domain":[-0.125,466.875],"nice":false,"zero":false},"axis":{"title":null}},"y":{"field":"v","type":"quantitative","scale":{"domain":[96.812,110.5955],"nice":false,"zero":false},"axis":{"title":null,"orient":"right"}}}},
{"data":{"values":[{"t":"3 Ekim 2023","i":99.1,"v":107.197},{"t":"1 Mayıs 2024","i":239.6,"v":106.427},{"t":"26 Haziran 2024","i":288.25,"v":105.933},{"t":"29 Aralık 2023","i":159.4,"v":100.585},{"t":"8 - 14 Mart 2024","i":212.1,"v":101.88},{"t":"14 Temmuz 2023","i":39.1,"v":98.99}]},
 "mark":{"type":"text","font":"Liberation Sans","fontSize":14,"color":"#000000","align":"center","baseline":"middle"},
 "encoding":{"x":{"field":"i","type":"quantitative","scale":{"domain":[-0.125,466.875],"nice":false,"zero":false},"axis":{"title":null}},"y":{"field":"v","type":"quantitative","scale":{"domain":[96.812,110.5955],"nice":false,"zero":false},"axis":{"title":null,"orient":"right"}},"text":{"field":"t"}}},
{"data":{"values":[{"t":"30 Temmuz 2024","i":314.6,"v":104.34},{"t":"2 Ekim 2024","i":364.6,"v":101.31},{"t":"Kasım 2022","i":418.9,"v":109.41}]},
 "mark":{"type":"text","font":"Liberation Sans","fontSize":14,"color":"#000000","align":"left","baseline":"middle"},
 "encoding":{"x":{"field":"i","type":"quantitative","scale":{"domain":[-0.125,466.875],"nice":false,"zero":false},"axis":{"title":null}},"y":{"field":"v","type":"quantitative","scale":{"domain":[96.812,110.5955],"nice":false,"zero":false},"axis":{"title":null,"orient":"right"}},"text":{"field":"t"}}},
{"data":{"values":[{"t":"100,15","i":326.2,"v":100.1},{"t":"99.85","i":324.9,"v":99.82}]},
 "mark":{"type":"text","font":"Liberation Sans","fontSize":15.5,"color":"#000000","align":"right","baseline":"middle"},
 "encoding":{"x":{"field":"i","type":"quantitative","scale":{"domain":[-0.125,466.875],"nice":false,"zero":false},"axis":{"title":null}},"y":{"field":"v","type":"quantitative","scale":{"domain":[96.812,110.5955],"nice":false,"zero":false},"axis":{"title":null,"orient":"right"}},"text":{"field":"t"}}},
{"data":{"values":[{"t":"Trend","i":303.9,"v":104.858},{"t":"Değişimi","i":302.4,"v":104.64},{"t":"Trend","i":359.9,"v":101.03},{"t":"Değişimi","i":359.3,"v":100.73}]},
 "mark":{"type":"text","font":"Liberation Sans","fontSize":16.5,"color":"#000000","align":"left","baseline":"middle"},
 "encoding":{"x":{"field":"i","type":"quantitative","scale":{"domain":[-0.125,466.875],"nice":false,"zero":false},"axis":{"title":null}},"y":{"field":"v","type":"quantitative","scale":{"domain":[96.812,110.5955],"nice":false,"zero":false},"axis":{"title":null,"orient":"right"}},"text":{"field":"t"}}},
{"data":{"values":[{"t":"31 Mart 2022","i":21.5,"v":97.76}]},
 "mark":{"type":"text","font":"Liberation Sans","fontSize":20,"color":"#000000","align":"left","baseline":"middle"},
 "encoding":{"x":{"field":"i","type":"quantitative","scale":{"domain":[-0.125,466.875],"nice":false,"zero":false},"axis":{"title":null}},"y":{"field":"v","type":"quantitative","scale":{"domain":[96.812,110.5955],"nice":false,"zero":false},"axis":{"title":null,"orient":"right"}},"text":{"field":"t"}}},
{"data":{"values":[{"t":"34 günlük üssel hareketli ortalama","i":400.4,"v":104.733}]},
 "mark":{"type":"text","font":"Liberation Sans","fontSize":15.5,"color":"#A03CDC","align":"left","baseline":"middle"},
 "encoding":{"x":{"field":"i","type":"quantitative","scale":{"domain":[-0.125,466.875],"nice":false,"zero":false},"axis":{"title":null}},"y":{"field":"v","type":"quantitative","scale":{"domain":[96.812,110.5955],"nice":false,"zero":false},"axis":{"title":null,"orient":"right"}},"text":{"field":"t"}}},
{"data":{"values":[{"t":"233 günlük üssel hareketli ortalama","i":395.3,"v":102.834}]},
 "mark":{"type":"text","font":"Liberation Sans","fontSize":15.5,"color":"#FF00FF","align":"left","baseline":"middle"},
 "encoding":{"x":{"field":"i","type":"quantitative","scale":{"domain":[-0.125,466.875],"nice":false,"zero":false},"axis":{"title":null}},"y":{"field":"v","type":"quantitative","scale":{"domain":[96.812,110.5955],"nice":false,"zero":false},"axis":{"title":null,"orient":"right"}},"text":{"field":"t"}}},
{"data":{"values":[{"v":105.92}]},"mark":{"type":"rule","color":"#000000","strokeWidth":1},
 "encoding":{"x":{"datum":414.2,"type":"quantitative","scale":{"domain":[-0.125,466.875],"nice":false,"zero":false},"axis":{"title":null}},"x2":{"datum":416.9},"y":{"field":"v","type":"quantitative","scale":{"domain":[96.812,110.5955],"nice":false,"zero":false},"axis":{"title":null,"orient":"right"}}}},
{"data":{"values":[{"v":105.92}]},"mark":{"type":"bar","orient":"horizontal","size":22,"fill":"#FFFFFF","stroke":"#000000","strokeWidth":1},
 "encoding":{"x":{"datum":416.9,"type":"quantitative","scale":{"domain":[-0.125,466.875],"nice":false,"zero":false},"axis":{"title":null}},"x2":{"datum":435.1},"y":{"field":"v","type":"quantitative","scale":{"domain":[96.812,110.5955],"nice":false,"zero":false},"axis":{"title":null,"orient":"right"}}}},
{"data":{"values":[{"t":"105.920","i":426,"v":105.92}]},
 "mark":{"type":"text","font":"Liberation Sans","fontSize":16,"color":"#000000","align":"center","baseline":"middle"},
 "encoding":{"x":{"field":"i","type":"quantitative","scale":{"domain":[-0.125,466.875],"nice":false,"zero":false},"axis":{"title":null}},"y":{"field":"v","type":"quantitative","scale":{"domain":[96.812,110.5955],"nice":false,"zero":false},"axis":{"title":null,"orient":"right"}},"text":{"field":"t"}}},
{"data":{"name":"boxes"},"mark":{"type":"bar","orient":"horizontal","size":10,"fill":"#000000"},
 "encoding":{"x":{"datum":467.375,"type":"quantitative","scale":{"domain":[-0.125,466.875],"nice":false,"zero":false},"axis":{"title":null}},"x2":{"datum":477.875},"y":{"field":"v","type":"quantitative","scale":{"domain":[96.812,110.5955],"nice":false,"zero":false},"axis":{"title":null,"orient":"right"}}}},
{"data":{"name":"boxes"},"mark":{"type":"text","font":"Liberation Sans","fontSize":9,"fontWeight":"bold","color":"#FFFFFF","align":"center","baseline":"middle"},
 "encoding":{"x":{"datum":472.6,"type":"quantitative","scale":{"domain":[-0.125,466.875],"nice":false,"zero":false},"axis":{"title":null}},"y":{"field":"v","type":"quantitative","scale":{"domain":[96.812,110.5955],"nice":false,"zero":false},"axis":{"title":null,"orient":"right"}},"text":{"field":"t"}}},
{"data":{"values":[{"i":414.6,"v":110.55}]},"mark":{"type":"point","shape":"triangle-down","filled":true,"color":"#A0A0A0","opacity":1,"size":40,"strokeWidth":0},
 "encoding":{"x":{"field":"i","type":"quantitative","scale":{"domain":[-0.125,466.875],"nice":false,"zero":false},"axis":{"title":null}},"y":{"field":"v","type":"quantitative","scale":{"domain":[96.812,110.5955],"nice":false,"zero":false},"axis":{"title":null,"orient":"right"}}}},
{"data":{"values":[{"t":"▼","i":1.1,"v":110.469}]},
 "mark":{"type":"text","font":"DejaVu Sans","fontSize":7,"color":"#000000","align":"center","baseline":"middle"},
 "encoding":{"x":{"field":"i","type":"quantitative","scale":{"domain":[-0.125,466.875],"nice":false,"zero":false},"axis":{"title":null}},"y":{"field":"v","type":"quantitative","scale":{"domain":[96.812,110.5955],"nice":false,"zero":false},"axis":{"title":null,"orient":"right"}},"text":{"field":"t"}}},
{"data":{"values":[{"t":"#DOLLAR_IND,Daily  107.775 107.807 107.670 107.800","i":4.05,"v":110.469}]},
 "mark":{"type":"text","font":"Liberation Sans","fontSize":9.5,"color":"#000000","align":"left","baseline":"middle"},
 "encoding":{"x":{"field":"i","type":"quantitative","scale":{"domain":[-0.125,466.875],"nice":false,"zero":false},"axis":{"title":null}},"y":{"field":"v","type":"quantitative","scale":{"domain":[96.812,110.5955],"nice":false,"zero":false},"axis":{"title":null,"orient":"right"}},"text":{"field":"t"}}}
]
}
